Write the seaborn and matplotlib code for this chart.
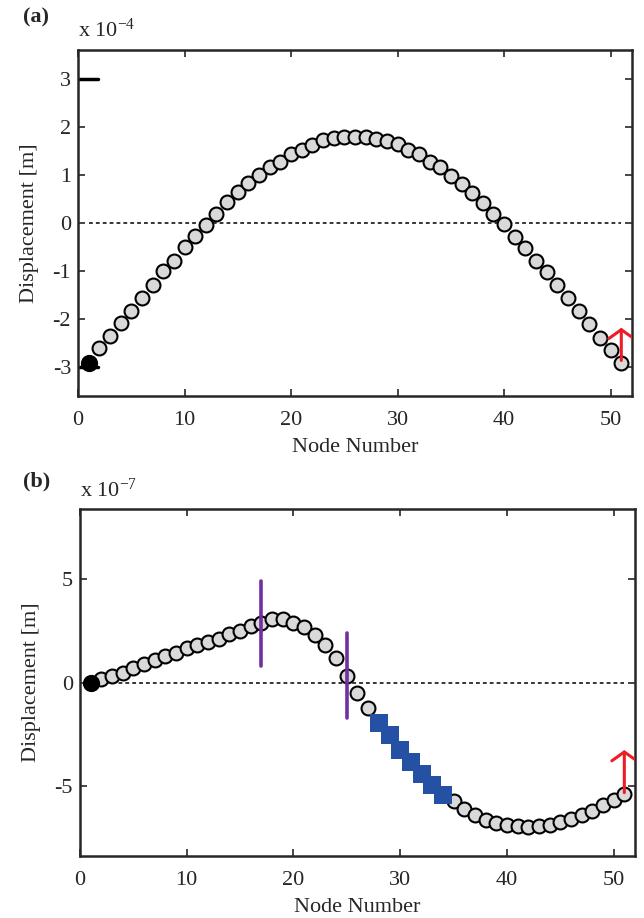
import numpy as np
import pandas as pd
import matplotlib
matplotlib.use("Agg")
import matplotlib.pyplot as plt
import seaborn as sns

# ---------------- data ----------------
nodes = list(range(1, 52))
disp_a = [-2.92, -2.61, -2.35, -2.08, -1.83, -1.56, -1.30, -1.00, -0.78, -0.50,
          -0.28, -0.05, 0.19, 0.44, 0.64, 0.83, 0.99, 1.16, 1.27, 1.44,
          1.51, 1.62, 1.72, 1.77, 1.80, 1.80, 1.80, 1.75, 1.70, 1.64,
          1.53, 1.44, 1.28, 1.16, 0.98, 0.82, 0.62, 0.42, 0.19, -0.01,
          -0.29, -0.53, -0.79, -1.02, -1.30, -1.57, -1.84, -2.11, -2.39, -2.65,
          -2.91]  # x 1e-4 m
disp_b = [0.00, 0.16, 0.32, 0.48, 0.72, 0.89, 1.08, 1.29, 1.40, 1.66,
          1.82, 1.93, 2.09, 2.33, 2.50, 2.71, 2.85, 3.06, 3.06, 2.87,
          2.66, 2.29, 1.80, 1.16, 0.32, -0.48, -1.21, -1.93, -2.54, -3.27,
          -3.83, -4.38, -4.91, -5.39, -5.72, -6.09, -6.39, -6.60, -6.76, -6.84,
          -6.92, -6.96, -6.92, -6.84, -6.73, -6.57, -6.39, -6.17, -5.88, -5.64,
          -5.35]  # x 1e-7 m
square_nodes_b = [28, 29, 30, 31, 32, 33, 34]
crack_nodes_b = [17, 25]
fixed_node = 1
load_node = 51
xticks = [0, 10, 20, 30, 40, 50]
yticks_a = [-3, -2, -1, 0, 1, 2, 3]
yticks_b = [-5, 0, 5]

df_a = pd.DataFrame({"node": nodes, "disp": disp_a})
df_b = pd.DataFrame({"node": nodes, "disp": disp_b})

# ---------------- style ----------------
sns.set_style("ticks")
plt.rcParams["font.family"] = ["Liberation Serif", "DejaVu Serif"]
plt.rcParams["mathtext.default"] = "regular"
plt.rcParams["axes.unicode_minus"] = False
plt.rcParams["axes.linewidth"] = 1.8
plt.rcParams["xtick.direction"] = "in"
plt.rcParams["ytick.direction"] = "in"

FS = 16
GRAY = "#D9D9D9"
RED = "#EE1C25"
PURPLE = "#7030A0"
BLUE = "#2451A4"

fig = plt.figure(figsize=(6.44, 9.18), dpi=100)
ax_a = fig.add_axes([0.1211, 0.5686, 0.8602, 0.3769])
ax_b = fig.add_axes([0.1242, 0.0675, 0.8618, 0.3780])


def style_axes(ax, yticks, ylim):
    ax.set_xlim(0, 52)
    ax.set_ylim(*ylim)
    ax.set_xticks(xticks)
    ax.set_yticks(yticks)
    ax.tick_params(axis="both", which="both", direction="in", top=True, right=True,
                   length=5, width=1.2, labelsize=FS)
    ax.tick_params(axis="x", pad=10.5)
    ax.tick_params(axis="y", pad=5)
    for s in ax.spines.values():
        s.set_visible(True)
        s.set_linewidth(1.8)
    ax.set_xlabel("Node Number", fontsize=FS, labelpad=6)
    ax.set_ylabel("Displacement [m]", fontsize=FS, labelpad=10)


def arrow(ax, x, y0, y1):
    ann = ax.annotate("", xy=(x, y1), xytext=(x, y0),
                      arrowprops=dict(arrowstyle="->,head_width=0.45,head_length=0.32",
                                      color=RED, lw=2.2, mutation_scale=20,
                                      shrinkA=0, shrinkB=0))
    ann.arrow_patch.set_clip_box(ax.bbox)
    ann.arrow_patch.set_clip_on(True)


# ---------------- panel (a) ----------------
ax = ax_a
ax.plot([1, 51], [0, 0], ls=(0, (2.5, 2)), color="black", lw=1.1, zorder=1)
ax.plot([0, 1.9], [3, 3], color="black", lw=2.5, zorder=1)
ax.plot([0, 1.9], [-3, -3], color="black", lw=2.5, zorder=1)
sns.scatterplot(data=df_a[df_a["node"] != fixed_node], x="node", y="disp", ax=ax,
                s=100, color=GRAY, edgecolor="black", linewidth=1.5, zorder=3, legend=False)
sns.scatterplot(data=df_a[df_a["node"] == fixed_node], x="node", y="disp", ax=ax,
                s=130, color="black", edgecolor="black", linewidth=1.0, zorder=4, legend=False)
arrow(ax, load_node, disp_a[load_node - 1] + 0.05, disp_a[load_node - 1] + 0.73)
style_axes(ax, yticks_a, (-3.6, 3.6))
fig.text(23 / 644, 1 - 17 / 918, "(a)", fontsize=FS, fontweight="bold", va="center", ha="left")
fig.text(78 / 644, 1 - 37 / 918, "x 10$^{-4}$", fontsize=FS, va="baseline", ha="left")

# ---------------- panel (b) ----------------
ax = ax_b
ax.plot([1, 51], [0, 0], ls=(0, (2.5, 2)), color="black", lw=1.1, zorder=1)
sns.scatterplot(data=df_b[df_b["node"] != fixed_node], x="node", y="disp", ax=ax,
                s=100, color=GRAY, edgecolor="black", linewidth=1.5, zorder=3, legend=False)
sns.scatterplot(data=df_b[df_b["node"] == fixed_node], x="node", y="disp", ax=ax,
                s=130, color="black", edgecolor="black", linewidth=1.0, zorder=4, legend=False)
sq = df_b[df_b["node"].isin(square_nodes_b)]
sns.scatterplot(data=sq, x="node", y="disp", ax=ax, marker="s", s=150,
                color=BLUE, edgecolor=BLUE, linewidth=0, zorder=5, legend=False)
for n in crack_nodes_b:
    yc = disp_b[n - 1]
    ax.plot([n, n], [yc - 2.05, yc + 2.05], color=PURPLE, lw=2.6, zorder=6)
arrow(ax, load_node, disp_b[load_node - 1] + 0.05, disp_b[load_node - 1] + 2.1)
style_axes(ax, yticks_b, (-8.35, 8.35))
fig.text(23 / 644, 1 - 481 / 918, "(b)", fontsize=FS, fontweight="bold", va="center", ha="left")
fig.text(80 / 644, 1 - 497 / 918, "x 10$^{-7}$", fontsize=FS, va="baseline", ha="left")

fig.savefig("out.png", dpi=100)
